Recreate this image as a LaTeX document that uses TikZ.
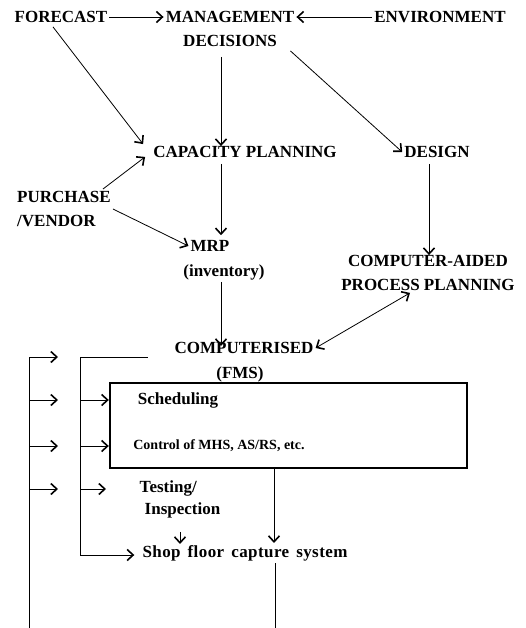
\documentclass[tikz,border=0pt]{standalone}
\usepackage{fontspec}
\setmainfont{Liberation Serif}
\newfontfamily\shopfont[LetterSpace=2.5,WordSpace=1.5]{Liberation Serif}
\usepackage{tikz}
\usetikzlibrary{arrows.meta,positioning,calc}
\tikzset{
  stage/.style={
    font=\bfseries\fontsize{17}{24}\selectfont, align=center,
    inner sep=2pt
  },
  taskline/.style={
    font=\bfseries\fontsize{#1}{22}\selectfont, align=left,
    inner sep=2pt
  },
  taskline/.default=17,
  fmsbox/.style={
    rectangle, draw, line width=2.4pt,
    minimum width=357pt, minimum height=85pt, inner sep=0pt
  },
  flow/.style={
    -{Straight Barb[length=6pt,width=11pt,line width=1.6pt]}, line width=0.8pt
  },
  twoway/.style={
    {Straight Barb[length=6pt,width=11pt,line width=1.6pt]}-{Straight Barb[length=6pt,width=11pt,line width=1.6pt]},
    line width=0.8pt
  },
  loopline/.style={line width=0.8pt},
}

\begin{document}
\begin{tikzpicture}[x=1pt,y=-1pt]
  \useasboundingbox (0,0) rectangle (525,628);

  % top row
  \node[stage] (forecast) at (61,17) {FORECAST};
  \node[stage] (mgmt) at (230,29) {MANAGEMENT\\DECISIONS};
  \node[stage] (env) at (440,17) {ENVIRONMENT};

  % planning level
  \node[stage] (cap) at (245,152) {CAPACITY PLANNING};
  \node[stage] (design) at (437,152) {DESIGN};
  \node[stage, align=left] (purchase) at (64,209) {PURCHASE\\/VENDOR};
  \node[stage] (mrp) at (210,246) {MRP};
  \node[stage] (inv) at (224,272) {(inventory)};
  \node[stage] (capp) at (428,273) {COMPUTER-AIDED\\PROCESS PLANNING};

  % FMS
  \node[stage] (comp) at (244,348) {COMPUTERISED};
  \node[stage] (fms) at (240,374) {(FMS)};
  \node[fmsbox] (box) at (288.5,425.5) {};
  \node[taskline] (sched) at (178,400) {Scheduling};
  \node[taskline=14] (ctrl) at (219,446) {Control of MHS, AS/RS, etc.};
  \node[taskline] (test) at (180,499) {Testing/\\\hspace{5pt}Inspection};
  \node[taskline, font=\shopfont\bfseries\fontsize{17}{22}\selectfont]
    (shop) at (245,553) {Shop floor capture system};

  % loose ends
  \coordinate (outbot) at (29,628);
  \coordinate (shopbot) at (275,628);
  \coordinate (inbot) at (80,555);
  \coordinate (intop) at (80,357);
  \coordinate (outtop) at (29,357);

  % arrows, top part
  \draw[flow] (forecast.east) -- (mgmt.west |- forecast.east);
  \draw[flow] (env.west) -- (mgmt.east |- env.west);
  \draw[flow] ([xshift=-8pt,yshift=-2pt]forecast.south) -- ([xshift=-8pt]cap.north west);
  \draw[flow] ([xshift=-9pt,yshift=-8pt]mgmt.south) -- ([xshift=-24pt,yshift=-2pt]cap.north);
  \draw[flow] ([xshift=-6pt,yshift=-2pt]mgmt.south east) -- (design.west);
  \draw[flow] ([xshift=-10pt]purchase.north east) -- ([xshift=-6pt,yshift=3pt]cap.south west);
  \draw[flow] (purchase.east) -- (mrp.west);
  \draw[flow] ([xshift=-24pt,yshift=-4pt]cap.south) -- ([xshift=-24pt,yshift=3pt]cap.south |- mrp.north);
  \draw[flow] ([xshift=-3pt]inv.south) -- ([xshift=-23pt,yshift=2pt]comp.center);
  \draw[flow] ([xshift=-8pt,yshift=-4pt]design.south) -- ([xshift=1pt,yshift=-2pt]capp.north);
  \draw[twoway] ([xshift=-18pt]capp.south) -- (comp.east);

  % arrows, FMS part
  \draw[flow] ([xshift=-14.5pt]box.south) -- ([xshift=-14.5pt]box.south |- shop.north);
  \draw[flow] ([yshift=-12pt]test.south) -- ([yshift=-1pt]test.south |- shop.north);
  \draw[loopline] ([xshift=30pt]shop.south) -- (shopbot);

  % feedback lines at left
  \draw[loopline] (outbot) -- (outtop);
  \draw[flow] (outtop) -- ++(29,0);
  \foreach \y in {400,446,489} {
    \draw[flow] (29,\y) -- (58,\y);
  }
  \draw[loopline] (inbot) -- (intop) -- ++(68,0);
  \draw[flow] (80,400) -- (box.west |- 0,400);
  \draw[flow] (80,446) -- (box.west |- 0,446);
  \draw[flow] (80,489) -- (106,489);
  \draw[flow] (inbot) -- ([xshift=-6pt]shop.west |- inbot);
\end{tikzpicture}
\end{document}
